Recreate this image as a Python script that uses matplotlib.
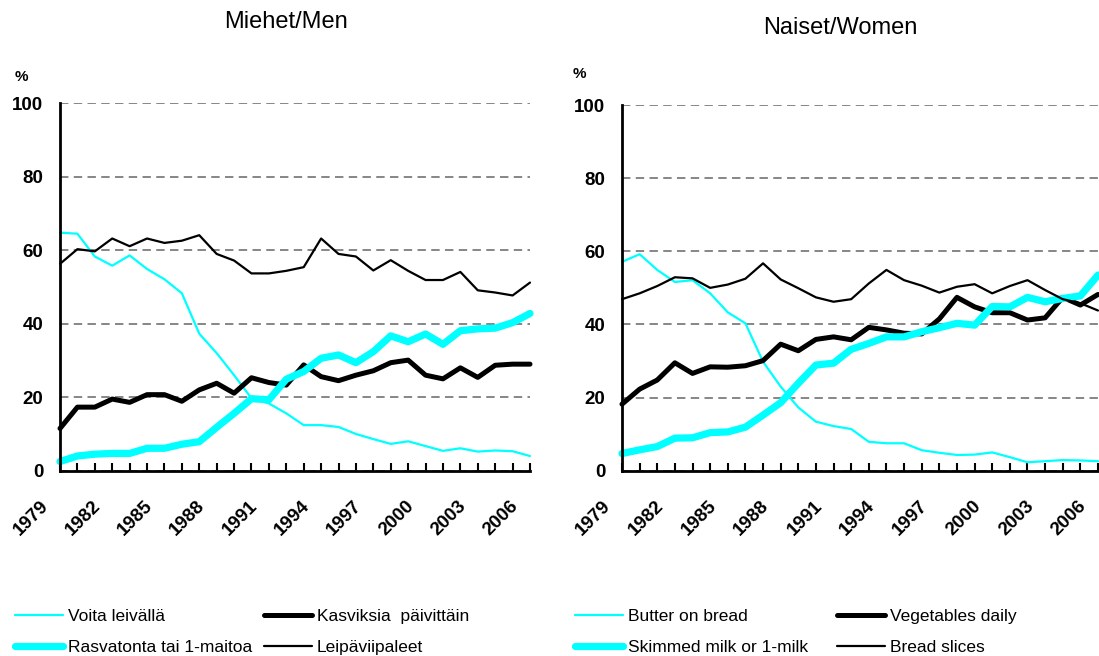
import matplotlib
matplotlib.use('Agg')
import matplotlib.pyplot as plt
from matplotlib.transforms import ScaledTranslation

plt.rcParams['font.family'] = ['Liberation Sans', 'DejaVu Sans']

years = list(range(1979, 2007))
year_labels = [str(y) if (y - 1979) % 3 == 0 else '' for y in years]
yticks = [0, 20, 40, 60, 80, 100]

# Men
men_butter = [64.8, 64.5, 58.3, 55.8, 58.6, 54.9, 52.1, 48.3, 37.3, 32.0, 26.0, 19.7, 18.3, 15.6,
              12.4, 12.4, 11.9, 10.0, 8.6, 7.3, 8.0, 6.7, 5.4, 6.1, 5.2, 5.5, 5.3, 4.0]
men_skimmed = [2.5, 4.0, 4.5, 4.7, 4.7, 6.1, 6.1, 7.2, 7.9, 11.8, 15.6, 19.6, 19.3, 24.9,
               27.0, 30.6, 31.5, 29.4, 32.4, 36.7, 35.1, 37.2, 34.4, 38.1, 38.6, 38.8, 40.3, 42.8]
men_veg = [11.5, 17.3, 17.3, 19.5, 18.6, 20.7, 20.7, 18.9, 22.0, 23.8, 21.1, 25.3, 24.0, 23.3,
           28.8, 25.6, 24.5, 26.0, 27.2, 29.4, 30.1, 26.0, 25.0, 28.0, 25.4, 28.7, 29.0, 29.0]
men_bread = [56.3, 60.3, 59.7, 63.2, 61.1, 63.2, 62.0, 62.6, 64.1, 59.0, 57.2, 53.7, 53.7, 54.4,
             55.4, 63.2, 59.0, 58.3, 54.5, 57.3, 54.4, 51.9, 51.9, 54.1, 49.1, 48.5, 47.7, 51.2]

# Women
women_butter = [57.1, 59.2, 54.9, 51.6, 52.1, 48.5, 43.3, 40.3, 29.8, 23.0, 17.3, 13.4, 12.2, 11.4,
                7.9, 7.5, 7.5, 5.6, 4.9, 4.3, 4.4, 5.0, 3.7, 2.3, 2.6, 2.9, 2.8, 2.6]
women_skimmed = [4.7, 5.7, 6.6, 8.9, 9.0, 10.4, 10.6, 11.9, 15.2, 18.6, 23.9, 28.9, 29.4, 33.2,
                 34.8, 36.6, 36.6, 38.0, 39.1, 40.3, 39.8, 44.9, 44.8, 47.4, 46.2, 47.1, 47.8, 53.5]
women_veg = [18.2, 22.3, 24.8, 29.5, 26.6, 28.4, 28.3, 28.7, 30.1, 34.6, 32.8, 35.9, 36.6, 35.8,
             39.2, 38.5, 37.6, 37.4, 41.5, 47.4, 44.8, 43.2, 43.2, 41.2, 41.8, 47.4, 45.3, 48.2]
women_bread = [46.9, 48.5, 50.5, 52.9, 52.6, 50.0, 50.9, 52.5, 56.7, 52.3, 49.9, 47.4, 46.2, 46.9,
               51.2, 54.9, 52.1, 50.6, 48.7, 50.3, 51.0, 48.5, 50.5, 52.1, 49.4, 46.9, 45.8, 43.8]

men_titles = ['Voita leivällä', 'Rasvatonta tai 1-maitoa', 'Kasviksia  päivittäin', 'Leipäviipaleet']
women_titles = ['Butter on bread', 'Skimmed milk or 1-milk', 'Vegetables daily', 'Bread slices']

W, H = 1099, 656
fig = plt.figure(figsize=(W / 100, H / 100), dpi=100)


def rect(x0, x1, ytop, ybot):
    return [x0 / W, 1 - ybot / H, (x1 - x0) / W, (ybot - ytop) / H]


panels = [
    dict(rect=rect(60, 530, 103.3, 470.7), title='Miehet/Men', tpos=(286, 22), pct=(21, 77),
         data=(men_butter, men_skimmed, men_veg, men_bread), names=men_titles,
         leg1=15, leg2=264),
    dict(rect=rect(622, 1098, 105, 470.7), title='Naiset/Women', tpos=(840, 28), pct=(579, 74),
         data=(women_butter, women_skimmed, women_veg, women_bread), names=women_titles,
         leg1=575, leg2=837),
]

cyan = '#00FFFF'
x = list(range(len(years)))

for p in panels:
    ax = fig.add_axes(p['rect'])
    butter, skimmed, veg, bread = p['data']
    common = dict(solid_joinstyle='round', solid_capstyle='round', clip_on=False)
    l_butter, = ax.plot(x, butter, color=cyan, lw=1.6, label=p['names'][0], zorder=3, **common)
    l_veg, = ax.plot(x, veg, color='black', lw=3.6, label=p['names'][2], zorder=4, **common)
    l_skim, = ax.plot(x, skimmed, color=cyan, lw=5.2, label=p['names'][1], zorder=5, **common)
    l_bread, = ax.plot(x, bread, color='black', lw=1.6, label=p['names'][3], zorder=6, **common)

    ax.set_xlim(0, len(years) - 1)
    ax.set_ylim(0, 100)
    for s in ['top', 'right']:
        ax.spines[s].set_visible(False)
    for s in ['left', 'bottom']:
        ax.spines[s].set_linewidth(2)
        ax.spines[s].set_zorder(7)

    ax.set_yticks(yticks)
    ax.set_yticklabels([str(v) for v in yticks], fontsize=13.5, fontweight='bold')
    ax.tick_params(axis='y', length=0, pad=12)
    ax.yaxis.grid(True, linestyle=(0, (5.5, 3.5)), color='#666666', lw=1.1)
    ax.set_axisbelow(True)

    ax.set_xticks(x)
    ax.set_xticklabels(year_labels, fontsize=13.5, fontweight='bold', rotation=45, ha='right')
    ax.tick_params(axis='x', direction='in', length=6, width=1.5, pad=19)
    off = ScaledTranslation(-8 / 100, 0, fig.dpi_scale_trans)
    for lab in ax.get_xticklabels():
        lab.set_transform(lab.get_transform() + off)

    fig.text(p['tpos'][0] / W, 1 - p['tpos'][1] / H, p['title'], fontsize=17,
             ha='center', va='center')
    fig.text(p['pct'][0] / W, 1 - p['pct'][1] / H, '%', fontsize=11, fontweight='bold',
             ha='center', va='center')

    legkw = dict(loc='center left', frameon=False, borderpad=0, borderaxespad=0,
                 handlelength=2.75, handletextpad=0.3, labelspacing=0.9, fontsize=12.5,
                 bbox_transform=fig.transFigure)
    fig.legend(handles=[l_butter, l_skim], bbox_to_anchor=(p['leg1'] / W, 1 - 632 / H), **legkw)
    fig.legend(handles=[l_veg, l_bread], bbox_to_anchor=(p['leg2'] / W, 1 - 632 / H), **legkw)

fig.savefig('out.png', dpi=100)
